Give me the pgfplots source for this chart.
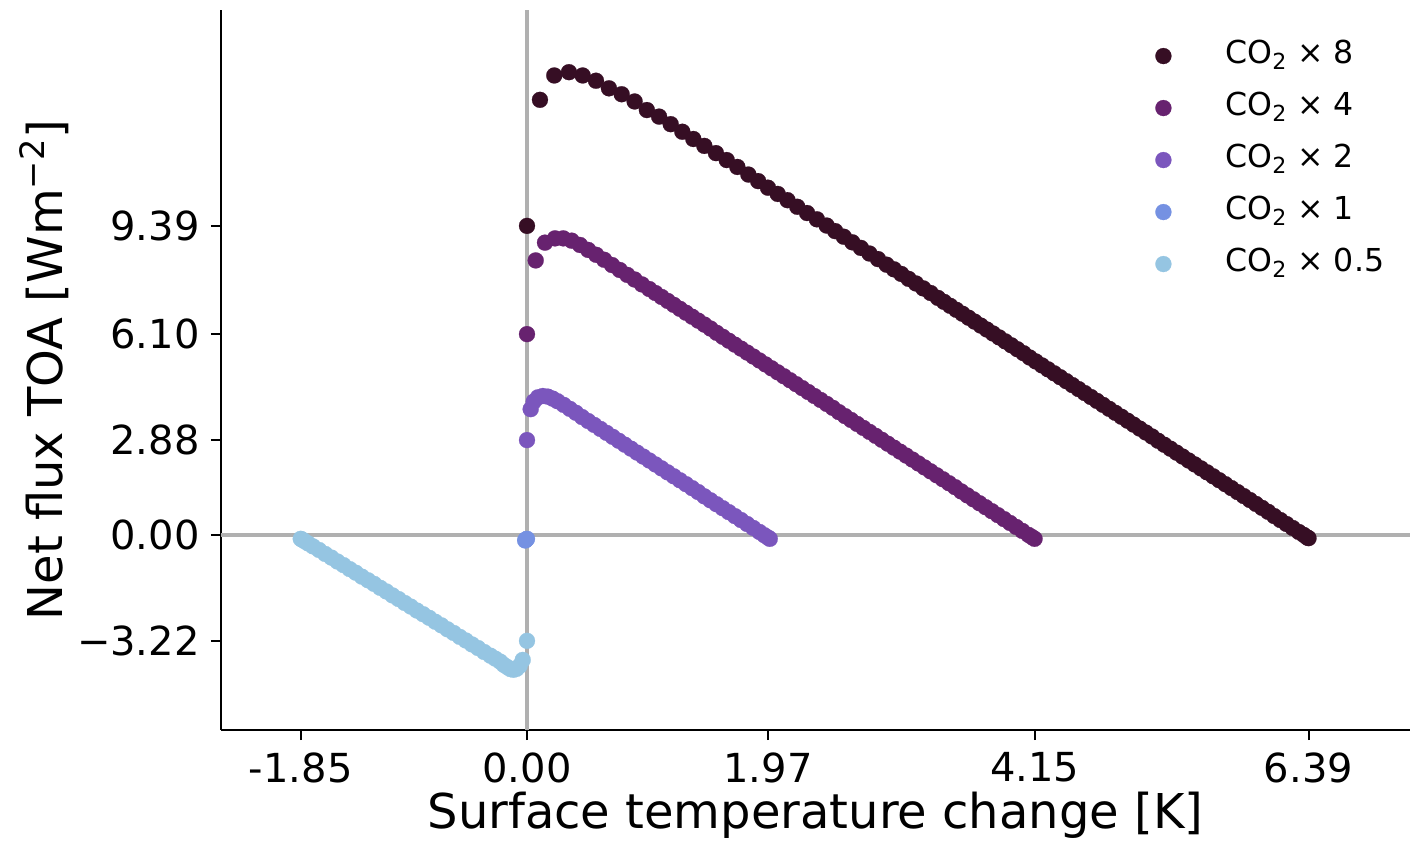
\documentclass[border=0pt]{standalone}
\usepackage{pgfplots}
\pgfplotsset{compat=1.18}
\usepackage{fontspec}
\setmainfont{DejaVu Sans}
\definecolor{c8}{RGB}{54,14,36}
\definecolor{c4}{RGB}{103,34,111}
\definecolor{c2}{RGB}{123,86,189}
\definecolor{c1}{RGB}{117,145,226}
\definecolor{c05}{RGB}{149,197,226}
\definecolor{zl}{RGB}{176,176,176}
\begin{document}
\begin{tikzpicture}
\useasboundingbox (-110.5pt,-57.5pt) rectangle (595.5pt,365pt);
\begin{axis}[
  at={(0,0)}, anchor=south west,
  scale only axis, width=594.5pt, height=360pt,
  xmin=-2.502, xmax=7.22, ymin=-5.93, ymax=15.95,
  axis x line*=bottom, axis y line*=left,
  axis line style={line width=1pt, black},
  xtick={-1.85,0,1.97,4.15,6.39},
  xticklabels={-1.85,0.00,1.97,4.15,6.39},
  ytick={-3.22,0,2.88,6.10,9.39},
  yticklabels={−3.22,0.00,2.88,6.10,9.39},
  tick align=outside, major tick length=5pt,
  tick style={line width=1pt, black},
  xticklabel style={font=\fontsize{20}{24}\selectfont, inner sep=0pt, anchor=north, yshift=-6pt},
  yticklabel style={font=\fontsize{20}{24}\selectfont, inner sep=0pt, anchor=east, xshift=-5.5pt},
  xlabel={Surface temperature change [K]},
  ylabel={Net flux TOA [Wm\textsuperscript{−2}]},
  x label style={font=\fontsize{24}{28}\selectfont, at={(axis description cs:0.5,-0.1375)}, anchor=base},
  y label style={font=\fontsize{24}{28}\selectfont, at={(axis description cs:-0.1329,0.5)}, rotate=0, anchor=base},
  legend cell align=left,
  legend style={draw=none, fill=none, inner sep=0pt, at={(axis cs:5.135,11.39)}, anchor=west,
     font=\fontsize{15.8}{19}\selectfont, column sep=27pt, row sep=11pt,
     nodes={inner sep=0pt, text height=11pt, text depth=4pt}},
  legend image code/.code={\draw[#1, mark size=4pt] plot coordinates {(0cm,0cm)};},
  every axis plot/.append style={only marks, mark=*, mark size=4pt},
  clip=true,
]
\addplot[zl, line width=2pt, forget plot, no marks, sharp plot] coordinates {(-2.502,0) (7.22,0)};
\addplot[zl, line width=2pt, forget plot, no marks, sharp plot] coordinates {(0,-5.93) (0,15.95)};

\addplot[c8, mark options={solid, fill=c8, draw=c8, line width=0.1pt}] coordinates {
(0,9.39) (0.106,13.22) (0.223,13.96) (0.343,14.06) (0.455,13.96) (0.564,13.80) (0.670,13.57) (0.774,13.39) (0.880,13.17) (0.980,12.91) (1.080,12.71) (1.175,12.48) (1.270,12.25) (1.360,12.03) (1.450,11.82) (1.545,11.60) (1.633,11.39) (1.720,11.18) (1.810,10.95) (1.890,10.75) (1.97,10.55) (2.05,10.36) (2.13,10.17) (2.21,9.97) (2.29,9.78) (2.37,9.59) (2.45,9.40) (2.52,9.23) (2.59,9.06) (2.66,8.89) (2.73,8.72) (2.80,8.55) (2.87,8.38) (2.94,8.21) (3.00,8.07) (3.06,7.93) (3.12,7.78) (3.18,7.64) (3.24,7.49) (3.30,7.35) (3.36,7.20) (3.41,7.08) (3.46,6.96) (3.51,6.84) (3.56,6.72) (3.61,6.60) (3.66,6.48) (3.71,6.36) (3.76,6.24) (3.81,6.12) (3.86,6.00) (3.91,5.88) (3.96,5.76) (4.01,5.64) (4.06,5.52) (4.11,5.39) (4.16,5.27) (4.21,5.15) (4.26,5.03) (4.31,4.91) (4.36,4.79) (4.41,4.67) (4.46,4.55) (4.51,4.43) (4.56,4.31) (4.61,4.19) (4.66,4.07) (4.71,3.95) (4.76,3.83) (4.81,3.71) (4.86,3.59) (4.91,3.47) (4.96,3.35) (5.01,3.23) (5.06,3.11) (5.11,2.99) (5.16,2.86) (5.21,2.74) (5.26,2.62) (5.31,2.50) (5.36,2.38) (5.41,2.26) (5.46,2.14) (5.51,2.02) (5.56,1.90) (5.61,1.78) (5.66,1.66) (5.71,1.54) (5.76,1.42) (5.81,1.30) (5.86,1.18) (5.91,1.06) (5.96,0.94) (6.01,0.82) (6.06,0.70) (6.11,0.57) (6.16,0.45) (6.21,0.33) (6.26,0.21) (6.31,0.09) (6.35,0.00) (6.38,-0.08) (6.39,-0.10)
};
\addlegendentry{CO\textsubscript{2} × 8}

\addplot[c4, mark options={solid, fill=c4, draw=c4, line width=0.1pt}] coordinates {
(0,6.10) (0.071,8.34) (0.147,8.88) (0.229,9.01) (0.297,9.01) (0.365,8.94) (0.433,8.81) (0.50,8.66) (0.566,8.51) (0.631,8.36) (0.695,8.20) (0.758,8.05) (0.82,7.90) (0.88,7.76) (0.94,7.61) (1.00,7.47) (1.05,7.35) (1.10,7.23) (1.15,7.11) (1.20,6.99) (1.25,6.87) (1.30,6.75) (1.35,6.63) (1.40,6.51) (1.45,6.39) (1.50,6.27) (1.55,6.14) (1.60,6.02) (1.65,5.90) (1.70,5.78) (1.75,5.66) (1.80,5.54) (1.85,5.42) (1.90,5.30) (1.95,5.18) (2.00,5.06) (2.05,4.94) (2.10,4.82) (2.15,4.70) (2.20,4.58) (2.25,4.46) (2.30,4.34) (2.35,4.22) (2.40,4.10) (2.45,3.98) (2.50,3.86) (2.55,3.73) (2.60,3.61) (2.65,3.49) (2.70,3.37) (2.75,3.25) (2.80,3.13) (2.85,3.01) (2.90,2.89) (2.95,2.77) (3.00,2.65) (3.05,2.53) (3.10,2.41) (3.15,2.29) (3.20,2.17) (3.25,2.05) (3.30,1.93) (3.35,1.81) (3.40,1.69) (3.45,1.57) (3.50,1.45) (3.55,1.32) (3.60,1.20) (3.65,1.08) (3.70,0.96) (3.75,0.84) (3.80,0.72) (3.85,0.60) (3.90,0.48) (3.95,0.36) (4.00,0.24) (4.05,0.12) (4.10,0.00) (4.13,-0.07) (4.15,-0.12)
};
\addlegendentry{CO\textsubscript{2} × 4}

\addplot[c2, mark options={solid, fill=c2, draw=c2, line width=0.1pt}] coordinates {
(0,2.88) (0.03,3.82) (0.055,4.05) (0.09,4.18) (0.13,4.22) (0.17,4.20) (0.21,4.14) (0.25,4.06) (0.30,3.95) (0.35,3.83) (0.40,3.71) (0.45,3.58) (0.50,3.46) (0.55,3.34) (0.60,3.22) (0.65,3.10) (0.70,2.98) (0.75,2.86) (0.80,2.74) (0.85,2.62) (0.90,2.50) (0.95,2.38) (1.00,2.26) (1.05,2.14) (1.10,2.02) (1.15,1.90) (1.20,1.78) (1.25,1.66) (1.30,1.54) (1.35,1.42) (1.40,1.30) (1.45,1.17) (1.50,1.05) (1.55,0.93) (1.60,0.81) (1.65,0.69) (1.70,0.57) (1.75,0.45) (1.80,0.33) (1.85,0.21) (1.90,0.09) (1.94,-0.01) (1.97,-0.08) (1.985,-0.12)
};
\addlegendentry{CO\textsubscript{2} × 2}

\addplot[c1, mark options={solid, fill=c1, draw=c1, line width=0.1pt}] coordinates {
(0,-0.12) (-0.005,-0.13) (-0.01,-0.15) (-0.015,-0.17) (-0.012,-0.16)
};
\addlegendentry{CO\textsubscript{2} × 1}

\addplot[c05, mark options={solid, fill=c05, draw=c05, line width=0.1pt}] coordinates {
(0,-3.22) (-0.035,-3.80) (-0.06,-3.98) (-0.085,-4.07) (-0.11,-4.10) (-0.135,-4.08) (-0.16,-4.02) (-0.19,-3.95) (-0.22,-3.85) (-0.26,-3.76) (-0.30,-3.67) (-0.35,-3.56) (-0.40,-3.44) (-0.45,-3.33) (-0.50,-3.21) (-0.55,-3.10) (-0.60,-2.98) (-0.65,-2.87) (-0.70,-2.75) (-0.75,-2.64) (-0.80,-2.52) (-0.85,-2.41) (-0.90,-2.30) (-0.95,-2.18) (-1.00,-2.07) (-1.05,-1.95) (-1.10,-1.84) (-1.15,-1.72) (-1.20,-1.61) (-1.25,-1.49) (-1.30,-1.38) (-1.35,-1.27) (-1.40,-1.15) (-1.45,-1.04) (-1.50,-0.92) (-1.55,-0.81) (-1.60,-0.69) (-1.65,-0.58) (-1.70,-0.46) (-1.75,-0.35) (-1.79,-0.26) (-1.82,-0.19) (-1.84,-0.14) (-1.85,-0.12)
};
\addlegendentry{CO\textsubscript{2} × 0.5}
\end{axis}
\end{tikzpicture}
\end{document}
